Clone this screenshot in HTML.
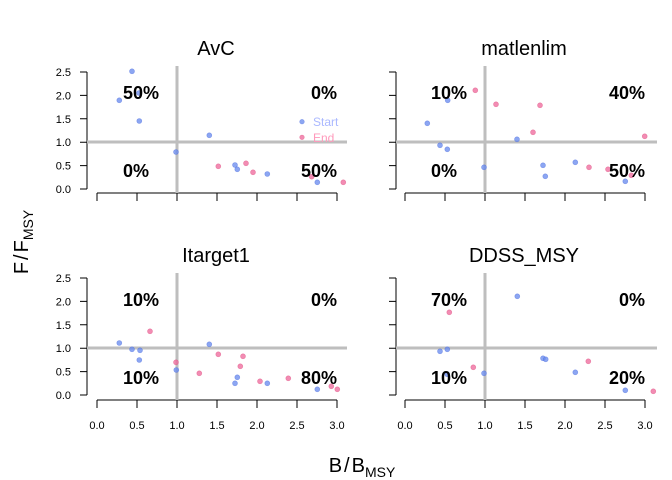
<!DOCTYPE html>
<html><head><meta charset="utf-8"><style>
html,body{margin:0;padding:0;background:#fff;}
svg{display:block;font-family:"Liberation Sans",Arial,sans-serif;}
.t{font-size:20px;text-anchor:middle;}
.p{font-size:18px;font-weight:bold;}
.tk{font-size:11px;}
.b{fill:#6688ee;fill-opacity:0.75;stroke:#4466dd;stroke-opacity:0.5;stroke-width:0.6}
.r{fill:#ee6699;fill-opacity:0.75;stroke:#dd4477;stroke-opacity:0.5;stroke-width:0.6}
</style></head><body>
<svg width="672" height="480" viewBox="0 0 672 480" xmlns="http://www.w3.org/2000/svg">
<g stroke="#000" stroke-width="1" fill="none">
<path d="M87,72V189M80,72H87M80,95.4H87M80,118.8H87M80,142.2H87M80,165.6H87M80,189H87"/>
<path d="M87,278V395M80,278H87M80,301.4H87M80,324.8H87M80,348.2H87M80,371.6H87M80,395H87"/>
<path d="M396,72V189M389,72H396M389,95.4H396M389,118.8H396M389,142.2H396M389,165.6H396M389,189H396"/>
<path d="M396,278V395M389,278H396M389,301.4H396M389,324.8H396M389,348.2H396M389,371.6H396M389,395H396"/>
<path d="M97,193H337M97,193v8M137,193v8M177,193v8M217,193v8M257,193v8M297,193v8M337,193v8"/>
<path d="M405,193H645M405,193v8M445,193v8M485,193v8M525,193v8M565,193v8M605,193v8M645,193v8"/>
<path d="M97,400H337M97,400v8M137,400v8M177,400v8M217,400v8M257,400v8M297,400v8M337,400v8"/>
<path d="M405,400H645M405,400v8M445,400v8M485,400v8M525,400v8M565,400v8M605,400v8M645,400v8"/>
</g>
<g stroke="#bebebe" stroke-width="3">
<path d="M177,66V193M87,142H347"/>
<path d="M485,66V193M396,142H657"/>
<path d="M177,273V400M87,348H347"/>
<path d="M485,273V400M396,348H657"/>
</g>
<g class="tk" text-anchor="end">
<text x="71" y="76">2.5</text><text x="71" y="99.4">2.0</text><text x="71" y="122.8">1.5</text><text x="71" y="146.2">1.0</text><text x="71" y="169.6">0.5</text><text x="71" y="193">0.0</text>
<text x="71" y="282">2.5</text><text x="71" y="305.4">2.0</text><text x="71" y="328.8">1.5</text><text x="71" y="352.2">1.0</text><text x="71" y="375.6">0.5</text><text x="71" y="399">0.0</text>
</g>
<g class="tk" text-anchor="middle">
<text x="97" y="429">0.0</text><text x="137" y="429">0.5</text><text x="177" y="429">1.0</text><text x="217" y="429">1.5</text><text x="257" y="429">2.0</text><text x="297" y="429">2.5</text><text x="337" y="429">3.0</text>
<text x="405" y="429">0.0</text><text x="445" y="429">0.5</text><text x="485" y="429">1.0</text><text x="525" y="429">1.5</text><text x="565" y="429">2.0</text><text x="605" y="429">2.5</text><text x="645" y="429">3.0</text>
</g>
<text class="t" x="216" y="55">AvC</text>
<text class="t" x="524" y="55">matlenlim</text>
<text class="t" x="216" y="262">Itarget1</text>
<text class="t" x="524" y="262">DDSS_MSY</text>
<text x="362" y="472" font-size="20" text-anchor="middle">B<tspan dx="2">/</tspan><tspan dx="2">B</tspan><tspan font-size="14" dy="5">MSY</tspan></text>
<text transform="translate(28,242) rotate(-90)" font-size="20" text-anchor="middle">F<tspan dx="2">/</tspan><tspan dx="2">F</tspan><tspan font-size="14" dy="5">MSY</tspan></text>
<g>
<circle class="b" cx="119.3" cy="100.3" r="2.5"/><circle class="b" cx="132" cy="71.3" r="2.5"/><circle class="b" cx="139.3" cy="121" r="2.5"/><circle class="b" cx="139" cy="93" r="2.5"/><circle class="b" cx="209.3" cy="135.3" r="2.5"/><circle class="b" cx="176" cy="152" r="2.5"/><circle class="b" cx="235" cy="165" r="2.5"/><circle class="b" cx="237.3" cy="169.3" r="2.5"/><circle class="b" cx="267.3" cy="174" r="2.5"/><circle class="b" cx="317.3" cy="182.3" r="2.5"/>
<circle class="r" cx="218.3" cy="166.3" r="2.5"/><circle class="r" cx="246" cy="163.3" r="2.5"/><circle class="r" cx="253" cy="172.3" r="2.5"/><circle class="r" cx="311.7" cy="176.7" r="2.5"/><circle class="r" cx="343.3" cy="182.3" r="2.5"/>
<circle class="b" cx="302" cy="121.7" r="2.3"/><circle class="r" cx="302" cy="137.3" r="2.3"/>
<text x="313" y="126" font-size="12" fill="#aab8ff">Start</text>
<text x="313" y="142" font-size="12" fill="#ff99bb">End</text>
</g>
<g>
<circle class="b" cx="447.7" cy="100.3" r="2.5"/><circle class="b" cx="427.3" cy="123.3" r="2.5"/><circle class="b" cx="440" cy="145.3" r="2.5"/><circle class="b" cx="447.3" cy="149.3" r="2.5"/><circle class="b" cx="484" cy="167.3" r="2.5"/><circle class="b" cx="517" cy="139.3" r="2.5"/><circle class="b" cx="543" cy="165.3" r="2.5"/><circle class="b" cx="545.3" cy="176.3" r="2.5"/><circle class="b" cx="575.3" cy="162.3" r="2.5"/><circle class="b" cx="625.3" cy="181.3" r="2.5"/>
<circle class="r" cx="475.3" cy="90.3" r="2.5"/><circle class="r" cx="496" cy="104.3" r="2.5"/><circle class="r" cx="540" cy="105.3" r="2.5"/><circle class="r" cx="533" cy="132.3" r="2.5"/><circle class="r" cx="644.7" cy="136.3" r="2.5"/><circle class="r" cx="589" cy="167.3" r="2.5"/><circle class="r" cx="608" cy="169.3" r="2.5"/><circle class="r" cx="631.3" cy="175.3" r="2.5"/>
</g>
<g>
<circle class="b" cx="119.3" cy="343" r="2.5"/><circle class="b" cx="132" cy="349.3" r="2.5"/><circle class="b" cx="140" cy="350.3" r="2.5"/><circle class="b" cx="139.3" cy="360" r="2.5"/><circle class="b" cx="176.3" cy="370" r="2.5"/><circle class="b" cx="209.3" cy="344.3" r="2.5"/><circle class="b" cx="235" cy="383.3" r="2.5"/><circle class="b" cx="237.3" cy="377.3" r="2.5"/><circle class="b" cx="267.3" cy="383.3" r="2.5"/><circle class="b" cx="317.3" cy="389.3" r="2.5"/>
<circle class="r" cx="150" cy="331.3" r="2.5"/><circle class="r" cx="176" cy="362.3" r="2.5"/><circle class="r" cx="218.3" cy="354.3" r="2.5"/><circle class="r" cx="199.3" cy="373.3" r="2.5"/><circle class="r" cx="243" cy="356.3" r="2.5"/><circle class="r" cx="240.3" cy="366.3" r="2.5"/><circle class="r" cx="260" cy="381.3" r="2.5"/><circle class="r" cx="288.3" cy="378.3" r="2.5"/><circle class="r" cx="331.3" cy="386.3" r="2.5"/><circle class="r" cx="337.3" cy="389.3" r="2.5"/>
</g>
<g>
<circle class="b" cx="517.3" cy="296.3" r="2.5"/><circle class="b" cx="440" cy="351.3" r="2.5"/><circle class="b" cx="447.3" cy="349.3" r="2.5"/><circle class="b" cx="447.3" cy="374.3" r="2.5"/><circle class="b" cx="484" cy="373.3" r="2.5"/><circle class="b" cx="543" cy="358.3" r="2.5"/><circle class="b" cx="545.7" cy="359.3" r="2.5"/><circle class="b" cx="575.3" cy="372.3" r="2.5"/><circle class="b" cx="625.3" cy="390.3" r="2.5"/>
<circle class="r" cx="449.3" cy="312.3" r="2.5"/><circle class="r" cx="473.3" cy="367.3" r="2.5"/><circle class="r" cx="588.3" cy="361.3" r="2.5"/><circle class="r" cx="653.3" cy="391.3" r="2.5"/>
</g>
<g class="p">
<text x="123" y="99">50%</text><text x="337" y="99" text-anchor="end">0%</text>
<text x="123" y="177">0%</text><text x="337" y="177" text-anchor="end">50%</text>
<text x="431" y="99">10%</text><text x="645" y="99" text-anchor="end">40%</text>
<text x="431" y="177">0%</text><text x="645" y="177" text-anchor="end">50%</text>
<text x="123" y="306">10%</text><text x="337" y="306" text-anchor="end">0%</text>
<text x="123" y="384">10%</text><text x="337" y="384" text-anchor="end">80%</text>
<text x="431" y="306">70%</text><text x="645" y="306" text-anchor="end">0%</text>
<text x="431" y="384">10%</text><text x="645" y="384" text-anchor="end">20%</text>
</g>
</svg>
</body></html>
